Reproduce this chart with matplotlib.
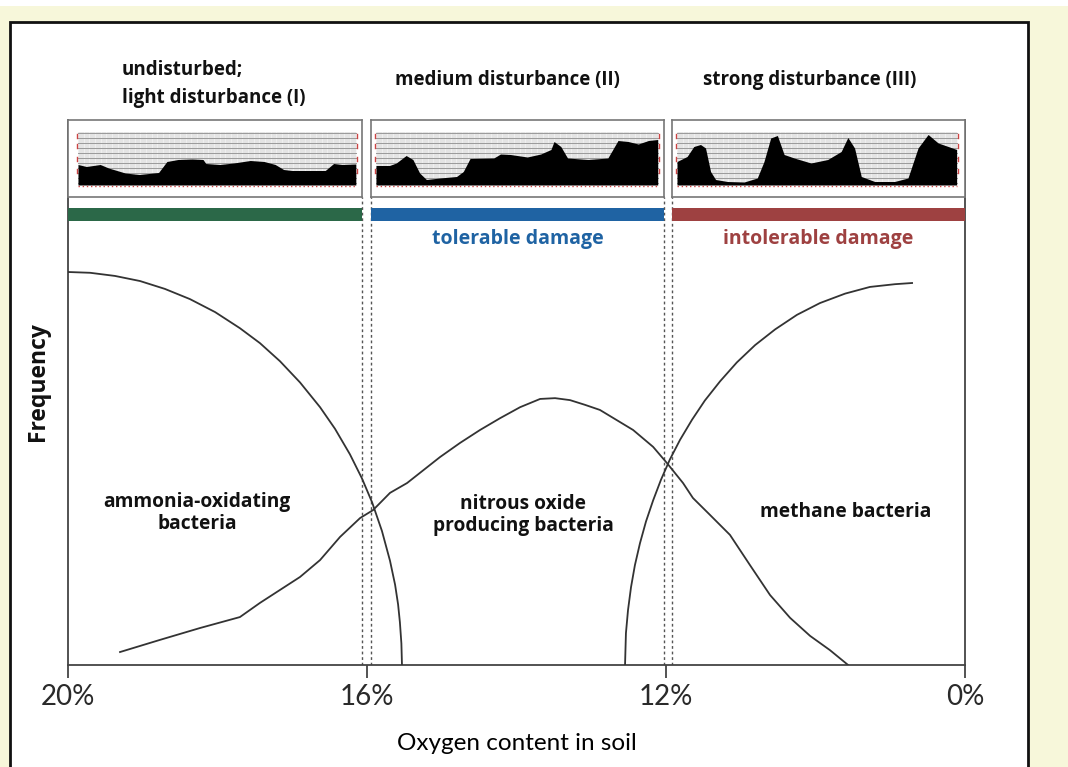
import matplotlib
matplotlib.use("Agg")
import matplotlib.pyplot as plt
from matplotlib.patches import Rectangle

# ---------------- data ----------------
tick_labels = ['20%', '16%', '12%', '0%']
tick_pos = [0, 1, 2, 3]

# curves: x = position on oxygen axis (0=20%, 1=16%, 2=12%, 3=0%), y = relative frequency
ammonia_x = [0.000, 0.074, 0.157, 0.241, 0.324, 0.408, 0.492, 0.575, 0.642, 0.709, 0.776, 0.843, 0.893,
             0.943, 0.983, 1.017, 1.050, 1.077, 1.094, 1.104, 1.110, 1.115, 1.117]
ammonia_y = [100.0, 99.8, 99.0, 97.7, 95.7, 93.1, 89.8, 85.7, 81.9, 77.3, 71.9, 65.6, 60.1,
             53.6, 47.5, 41.4, 34.1, 26.5, 20.4, 15.4, 10.9, 5.5, 0.0]

methane_x = [1.863, 1.866, 1.873, 1.883, 1.896, 1.913, 1.933, 1.957, 1.983, 2.013, 2.047, 2.087, 2.130,
             2.181, 2.237, 2.298, 2.365, 2.438, 2.515, 2.599, 2.682, 2.766, 2.823]
methane_y = [0.0, 8.1, 14.0, 19.8, 25.4, 31.0, 36.5, 41.9, 47.1, 52.3, 57.3, 62.4, 67.3,
             72.2, 77.0, 81.4, 85.4, 89.1, 92.1, 94.5, 96.2, 96.9, 97.2]

nitrous_x = [0.174, 0.308, 0.441, 0.575, 0.642, 0.709, 0.776, 0.843, 0.910, 0.977, 1.020, 1.077, 1.134,
             1.244, 1.311, 1.378, 1.445, 1.512, 1.579, 1.629, 1.679, 1.729, 1.779, 1.890, 1.957, 2.003,
             2.057, 2.090, 2.147, 2.214, 2.281, 2.348, 2.415, 2.482, 2.548, 2.609]
nitrous_y = [3.3, 6.4, 9.4, 12.2, 15.8, 19.1, 22.4, 26.7, 32.6, 37.4, 39.4, 43.8, 46.3,
             52.9, 56.5, 59.8, 62.8, 65.6, 67.7, 67.9, 67.4, 66.2, 64.9, 59.8, 55.5, 51.4,
             46.3, 42.5, 38.2, 33.1, 25.4, 17.8, 12.0, 7.4, 3.8, 0.0]

# boundaries (dashed lines)
boundaries = [0.983, 1.013, 1.993, 2.020]

# zones
zone_starts = [0.0, 1.013, 2.020]
zone_ends = [0.983, 1.993, 3.0]
zone_colors = ['#2b6848', '#1f63a3', '#9e4141']
zone_titles = ['undisturbed;\nlight disturbance (I)', 'medium disturbance (II)', 'strong disturbance (III)']
damage_labels = ['', 'tolerable damage', 'intolerable damage']

# thumbnail profiles (fraction along, relative height)
prof1_x = [0, .03, .08, .11, .17, .22, .29, .32, .36, .41, .45, .46, .51, .56, .62, .67, .71, .74, .77, .89, .92, .95, 1.0]
prof1_h = [.37, .33, .37, .30, .20, .17, .21, .43, .47, .48, .47, .39, .37, .40, .45, .43, .37, .27, .25, .25, .39, .37, .38]
prof2_x = [0, .048, .072, .107, .131, .155, .179, .227, .286, .310, .334, .418, .442, .477, .537, .585, .621, .632,
           .656, .680, .752, .823, .859, .895, .931, .967, 1.0]
prof2_h = [.35, .35, .40, .55, .47, .20, .07, .10, .13, .23, .49, .50, .58, .57, .52, .58, .67, .83, .73, .50, .47,
           .50, .85, .83, .78, .85, .87]
prof3_x = [0, .036, .060, .084, .102, .120, .138, .180, .240, .287, .311, .335, .359, .383, .419, .479, .539, .587,
           .611, .635, .659, .707, .778, .826, .862, .898, .934, .970, 1.0]
prof3_h = [.43, .53, .73, .77, .70, .23, .07, .03, .02, .10, .43, .90, .95, .57, .50, .40, .47, .63, .91, .70, .13,
           .03, .03, .10, .70, .97, .80, .73, .67]

# ---------------- figure ----------------
W, H = 1068, 767
fig = plt.figure(figsize=(W / 100, H / 100), dpi=100)
fig.patch.set_facecolor('#f7f7da')

# white strip at very top and white panel with black border (behind everything)
fig.patches.append(Rectangle((0, 1 - 6 / H), 1, 6 / H, transform=fig.transFigure,
                             facecolor='white', edgecolor='none', zorder=-20))
fig.patches.append(Rectangle((10 / W, -0.01), (1028 - 10) / W, (767 - 22) / H + 0.01,
                             transform=fig.transFigure, facecolor='white',
                             edgecolor='#111111', linewidth=2, zorder=-10))

px_l, px_r, py_t, py_b = 68, 965, 120, 665
ax = fig.add_axes([px_l / W, (H - py_b) / H, (px_r - px_l) / W, (py_b - py_t) / H])
ax.set_zorder(1)
ax.set_facecolor('none')
scale = 3.93  # pixels per frequency unit
ymax = (py_b - py_t) / scale
ax.set_xlim(0, 3)
ax.set_ylim(0, ymax)

ax.spines['top'].set_visible(False)
for s in ['left', 'right', 'bottom']:
    ax.spines[s].set_color('#444444')
    ax.spines[s].set_linewidth(1.3)

ax.set_yticks([])
ax.set_xticks(tick_pos)
ax.set_xticklabels(tick_labels, fontsize=20, family='Lato', color='#2a2a2a')
ax.tick_params(axis='x', direction='out', length=9, width=1.3, color='#444444', pad=5)
ax.set_xlabel('Oxygen content in soil', fontsize=17.5, family='Lato', color='#000000', labelpad=16)
ax.set_ylabel('Frequency', fontsize=16.5, family='Open Sans', fontweight='bold', color='#111111')
ax.yaxis.set_label_coords(-0.020, (py_b - 382) / (py_b - py_t))

# curves
line_kw = dict(color='#333333', linewidth=1.3, zorder=3)
ax.plot(ammonia_x, ammonia_y, **line_kw)
ax.plot(methane_x, methane_y, **line_kw)
ax.plot(nitrous_x, nitrous_y, **line_kw)

# dashed boundaries
box_bot = (py_b - 197) / scale
for b in boundaries:
    ax.plot([b, b], [0, box_bot], color='#555555', linewidth=1.0, linestyle=(0, (2, 2)), zorder=2)

# colored bars
bar_bot = (py_b - 221) / scale
bar_top = (py_b - 208) / scale
for s, e, c in zip(zone_starts, zone_ends, zone_colors):
    ax.add_patch(Rectangle((s, bar_bot), e - s, bar_top - bar_bot, facecolor=c, edgecolor='none', zorder=3))

# damage labels
lab_y = (py_b - 239) / scale
for s, e, c, t in zip(zone_starts, zone_ends, zone_colors, damage_labels):
    if t:
        ax.text((s + e) / 2, lab_y, t, color=c, fontsize=14, family='Open Sans', fontweight='bold',
                ha='center', va='center')

# titles above thumbnails (figure pixel positions)
txt_kw = dict(fontsize=13.5, family='Open Sans', fontweight='bold', color='#111111')
fig.text(122 / W, 1 - 84 / H, zone_titles[0], ha='left', va='center', linespacing=1.5, **txt_kw)
fig.text(507 / W, 1 - 80 / H, zone_titles[1], ha='center', va='center', **txt_kw)
fig.text(810 / W, 1 - 80 / H, zone_titles[2], ha='center', va='center', **txt_kw)

# curve labels
clab = dict(fontsize=13.8, family='Open Sans', fontweight='bold', color='#111111', ha='center', va='center')
ax.text((197 - 68) / 299, (py_b - 513) / scale, 'ammonia-oxidating\nbacteria', linespacing=1.12, **clab)
ax.text((523 - 68) / 299, (py_b - 515) / scale, 'nitrous oxide\nproducing bacteria', linespacing=1.15, **clab)
ax.text((846 - 68) / 299, (py_b - 512) / scale, 'methane bacteria', **clab)

# thumbnails as inset axes
box_top = (py_b - py_t) / scale
profiles = [(prof1_x, prof1_h, (-0.036, 1.022)), (prof2_x, prof2_h, (-0.018, 1.022)),
            (prof3_x, prof3_h, (-0.018, 1.03))]
box_edges = [(0.0, 0.983), (1.013, 1.993), (2.020, 3.0)]
for (px, ph, xl), (s, e) in zip(profiles, box_edges):
    ins = ax.inset_axes([s, box_bot, e - s, box_top - box_bot], transform=ax.transData)
    ins.set_xlim(*xl)
    ins.set_ylim(-0.28, 1.26)
    ins.set_xticks([])
    ins.set_yticks([])
    ins.set_facecolor('white')
    for sp in ins.spines.values():
        sp.set_color('#777777')
        sp.set_linewidth(1.2)
    ins.add_patch(Rectangle((0, -0.02), 1, 1.04, facecolor='#e4e4e4', edgecolor='none', zorder=0))
    for k in range(50):
        xv = k / 49
        ins.plot([xv, xv], [-0.02, 1.02], color='#f4f4f4', linewidth=0.5, zorder=1)
    for k in range(11):
        yv = k / 10
        ins.plot([0, 1], [yv, yv], color='#9a9a9a', linewidth=0.7, zorder=1)
    ins.fill_between(px, -0.04, ph, color='black', linewidth=0, zorder=2)
    ins.plot([0, 1], [-0.06, -0.06], color='#cc4444', linewidth=1.0, linestyle=(0, (1, 2)), zorder=3)
    for yv in [0.2, 0.45, 0.7, 0.9]:
        ins.plot([-0.005, -0.005], [yv, yv + 0.08], color='#cc4444', linewidth=1.0, zorder=3)
        ins.plot([1.005, 1.005], [yv, yv + 0.08], color='#cc4444', linewidth=1.0, zorder=3)

fig.savefig('out.png', dpi=100, facecolor=fig.get_facecolor())
